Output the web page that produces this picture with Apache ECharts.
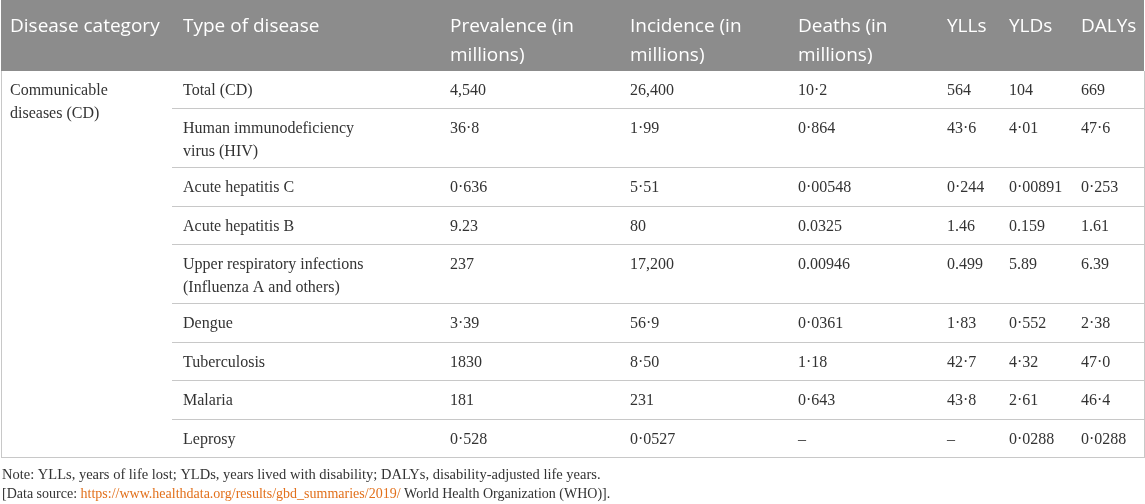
<!DOCTYPE html>
<html>
<head>
<meta charset="utf-8">
<script src="https://cdn.jsdelivr.net/npm/echarts@6/dist/echarts.min.js"></script>
<style>
  html, body { margin: 0; padding: 0; background: #fff; }
  #chart { width: 1145px; height: 504px; }
</style>
</head>
<body>
<div id="chart"></div>
<script>
// table content
const headers = ['Disease category', 'Type of disease', 'Prevalence (in\nmillions)', 'Incidence (in\nmillions)',
  'Deaths (in\nmillions)', 'YLLs', 'YLDs', 'DALYs'];
const category = 'Communicable\ndiseases (CD)';
const diseases = ['Total (CD)', 'Human immunodeficiency\nvirus (HIV)', 'Acute hepatitis C', 'Acute hepatitis B',
  'Upper respiratory infections\n(Influenza A and others)', 'Dengue', 'Tuberculosis', 'Malaria', 'Leprosy'];
const prevalence = ['4,540', '36·8', '0·636', '9.23', '237', '3·39', '1830', '181', '0·528'];
const incidence = ['26,400', '1·99', '5·51', '80', '17,200', '56·9', '8·50', '231', '0·0527'];
const deaths = ['10·2', '0·864', '0·00548', '0.0325', '0.00946', '0·0361', '1·18', '0·643', '–'];
const ylls = ['564', '43·6', '0·244', '1.46', '0.499', '1·83', '42·7', '43·8', '–'];
const ylds = ['104', '4·01', '0·00891', '0.159', '5.89', '0·552', '4·32', '2·61', '0·0288'];
const dalys = ['669', '47·6', '0·253', '1.61', '6.39', '2·38', '47·0', '46·4', '0·0288'];
const noteText = 'Note: YLLs, years of life lost; YLDs, years lived with disability; DALYs, disability-adjusted life years.';
const sourceUrl = 'https://www.healthdata.org/results/gbd_summaries/2019/';

// layout (pixel units on hidden value axes)
const colEdges = [1, 172, 439, 619, 787, 936, 998, 1070, 1144];
const rowEdges = [0, 71, 109, 168, 207, 245, 304, 343, 381, 420, 458];

const bodyCols = [null, diseases, prevalence, incidence, deaths, ylls, ylds, dalys];

function cellText(c, r) {
  if (r === -1) return headers[c];
  if (c === 0) return category;
  return bodyCols[c][r];
}

// one item per cell: [column, row], row -1 is the header
const cells = [];
for (let c = 0; c < headers.length; c++) cells.push([c, -1]);
cells.push([0, 0]);
for (let r = 0; r < diseases.length; r++) {
  for (let c = 1; c < headers.length; c++) cells.push([c, r]);
}

const px = v => Math.round(v) + 0.5;

function renderCell(params, api) {
  const c = api.value(0), r = api.value(1);
  let y0, y1;
  if (r === -1) { y0 = rowEdges[0]; y1 = rowEdges[1]; }
  else if (c === 0) { y0 = rowEdges[1]; y1 = rowEdges[rowEdges.length - 1]; }
  else { y0 = rowEdges[r + 1]; y1 = rowEdges[r + 2]; }
  const p0 = api.coord([colEdges[c], y0]);
  const p1 = api.coord([colEdges[c + 1], y1]);
  const isHead = r === -1;
  const lineCol = isHead ? '#a9a9a9' : '#c8c8c8';
  const children = [{
    type: 'rect',
    shape: { x: p0[0], y: p0[1], width: p1[0] - p0[0], height: p1[1] - p0[1] },
    style: { fill: isHead ? '#8c8c8c' : '#ffffff' }
  }];
  // right border
  if (c < headers.length - 1 || !isHead) {
    children.push({ type: 'line', shape: { x1: px(p1[0]), y1: p0[1], x2: px(p1[0]), y2: p1[1] },
      style: { stroke: lineCol, lineWidth: 1 } });
  }
  if (!isHead) {
    children.push({ type: 'line', shape: { x1: p0[0], y1: px(p1[1]) - 1, x2: p1[0] + 1, y2: px(p1[1]) - 1 },
      style: { stroke: '#c8c8c8', lineWidth: 1 } });
    if (c === 0) {
      children.push({ type: 'line', shape: { x1: px(p0[0]), y1: p0[1], x2: px(p0[0]), y2: p1[1] },
        style: { stroke: '#c8c8c8', lineWidth: 1 } });
    }
  }
  children.push({
    type: 'text',
    style: {
      text: cellText(c, r),
      x: p0[0] + (c === 0 ? 9 : 11),
      y: p0[1] + (isHead ? 12 : 8),
      fill: isHead ? '#ffffff' : '#333333',
      fontFamily: isHead ? 'Open Sans' : 'Liberation Serif',
      fontSize: isHead ? 19 : 16,
      lineHeight: isHead ? 29 : 23,
      verticalAlign: 'top',
      align: 'left'
    }
  });
  return { type: 'group', children: children };
}

const chart = echarts.init(document.getElementById('chart'));
chart.setOption({
  animation: false,
  grid: { left: 0, right: 0, top: 0, bottom: 0 },
  xAxis: { type: 'value', min: 0, max: 1145, show: false },
  yAxis: { type: 'value', min: 0, max: 504, inverse: true, show: false },
  series: [{
    type: 'custom',
    renderItem: renderCell,
    data: cells,
    clip: false,
    silent: true
  }],
  graphic: [
    {
      type: 'text', left: 2, top: 468,
      style: { text: noteText, fontFamily: 'Liberation Serif', fontSize: 14.5, fill: '#333333' }
    },
    {
      type: 'text', left: 2, top: 487,
      style: {
        text: '{a|[Data source: }{b|' + sourceUrl + '}{a| World Health Organization (WHO)].}',
        rich: {
          a: { fontFamily: 'Liberation Serif', fontSize: 14, fill: '#333333' },
          b: { fontFamily: 'Liberation Serif', fontSize: 14, fill: '#e2701b' }
        }
      }
    }
  ]
});
</script>
</body>
</html>
